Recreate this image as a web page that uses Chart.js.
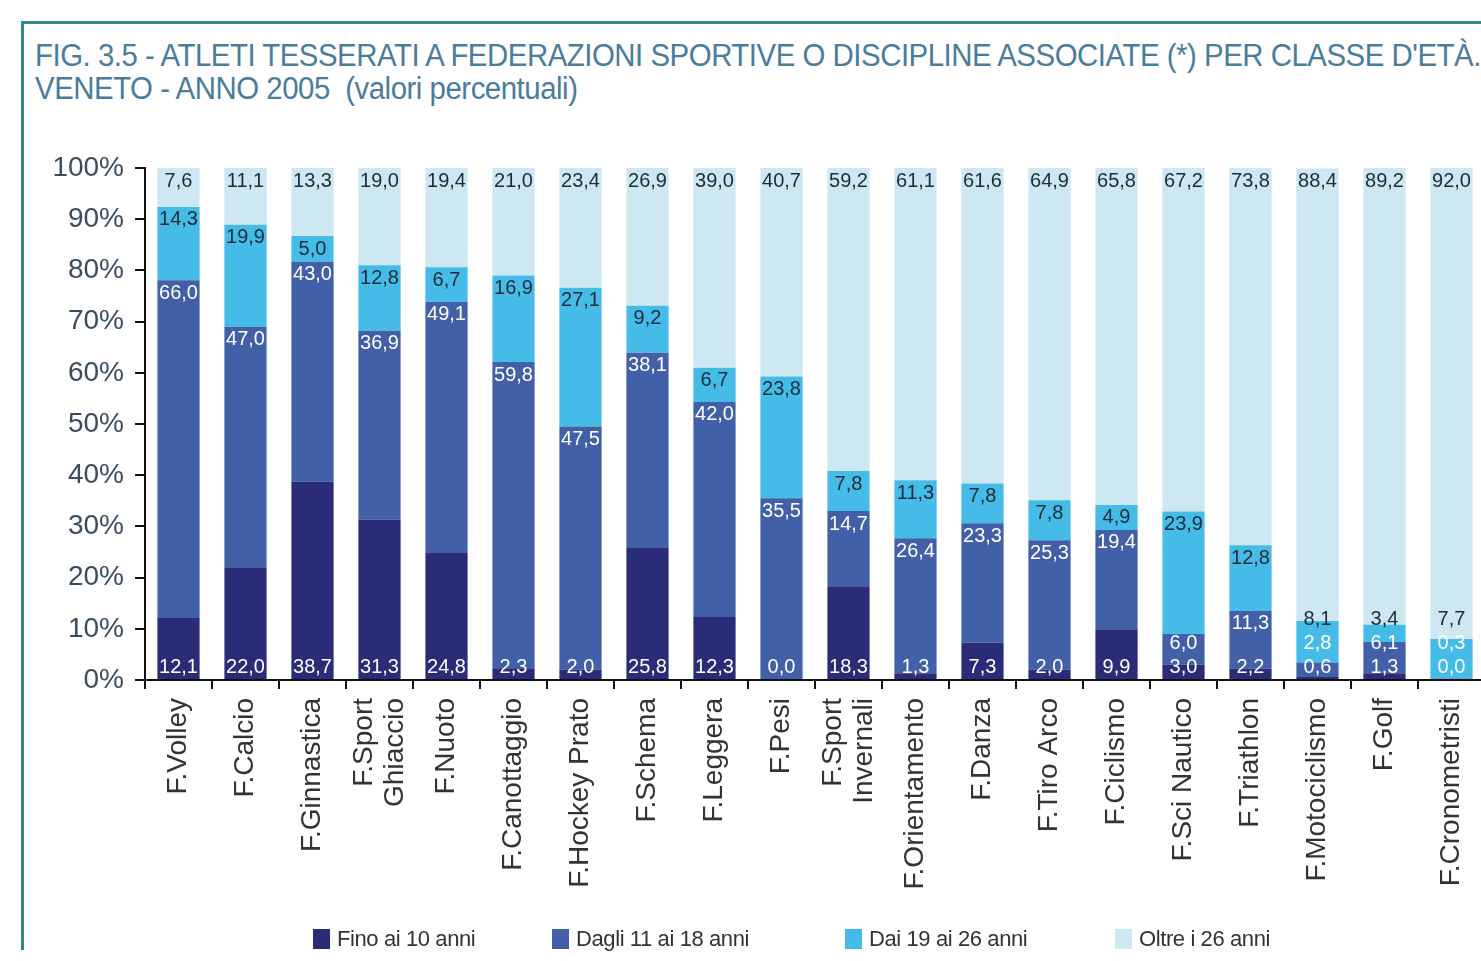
<!DOCTYPE html>
<html>
<head>
<meta charset="utf-8">
<script src="https://cdn.jsdelivr.net/npm/chart.js@4"></script>
<style>
    html, body { margin: 0; padding: 0; background: #fff; overflow: hidden; }
    body { width: 1481px; height: 961px; position: relative; }
    #frame {
        position: absolute; left: 21px; top: 21px; width: 1470px; height: 926px;
        border-top: 3px solid #2f8a8a; border-left: 3px solid #2f8a8a;
    }
    #title {
        position: absolute; left: 35px; top: 39px;
        font-family: "Liberation Sans", Arial, sans-serif;
        font-size: 31px; line-height: 33px; color: #4a7c9b; white-space: nowrap;
        letter-spacing: -0.5px; transform-origin: 0 0;
    }
    #chart-wrap { position: absolute; left: 0; top: 0; width: 1500px; height: 961px; }
    #legend {
        position: absolute; top: 926px; left: 0; width: 1481px; height: 24px;
        font-family: "Liberation Sans", Arial, sans-serif; font-size: 22px; color: #333;
        letter-spacing: -0.4px;
    }
    .item { position: absolute; top: 0; display: flex; align-items: center; }
    .item span.box { display: inline-block; width: 17px; height: 20px; margin-right: 7px; }
</style>
</head>
<body>
<div id="frame"></div>
<div id="title">FIG. 3.5 - ATLETI TESSERATI A FEDERAZIONI SPORTIVE O DISCIPLINE ASSOCIATE (*) PER CLASSE D'ETÀ.<br>VENETO - ANNO 2005&nbsp; (valori percentuali)</div>
<div id="chart-wrap"><canvas id="chart" width="1500" height="961"></canvas></div>
<div id="legend"></div>

<script>
// categories (federazioni)
const categories = [
    "F.Volley", "F.Calcio", "F.Ginnastica", ["F.Sport", "Ghiaccio"], "F.Nuoto",
    "F.Canottaggio", "F.Hockey Prato", "F.Schema", "F.Leggera", "F.Pesi",
    ["F.Sport", "Invernali"], "F.Orientamento", "F.Danza", "F.Tiro Arco", "F.Ciclismo",
    "F.Sci Nautico", "F.Triathlon", "F.Motociclismo", "F.Golf", "F.Cronometristi"
];

// classi d'età (valori percentuali)
const fino10  = [12.1, 22.0, 38.7, 31.3, 24.8, 2.3, 2.0, 25.8, 12.3, 0.0, 18.3, 1.3, 7.3, 2.0, 9.9, 3.0, 2.2, 0.6, 1.3, 0.0];
const dagli11 = [66.0, 47.0, 43.0, 36.9, 49.1, 59.8, 47.5, 38.1, 42.0, 35.5, 14.7, 26.4, 23.3, 25.3, 19.4, 6.0, 11.3, 2.8, 6.1, 0.3];
const dai19   = [14.3, 19.9, 5.0, 12.8, 6.7, 16.9, 27.1, 9.2, 6.7, 23.8, 7.8, 11.3, 7.8, 7.8, 4.9, 23.9, 12.8, 8.1, 3.4, 7.7];
const oltre26 = [7.6, 11.1, 13.3, 19.0, 19.4, 21.0, 23.4, 26.9, 39.0, 40.7, 59.2, 61.1, 61.6, 64.9, 65.8, 67.2, 73.8, 88.4, 89.2, 92.0];

const seriesNames = ["Fino ai 10 anni", "Dagli 11 ai 18 anni", "Dai 19 ai 26 anni", "Oltre i 26 anni"];
const seriesColors = ["#2b2c78", "#4160a8", "#45bce8", "#cde8f2"];
const yTicks = [0, 10, 20, 30, 40, 50, 60, 70, 80, 90, 100];

document.addEventListener("DOMContentLoaded", () => {
    fitTitle();
    renderLegend();
    initChart();
});

// title is condensed in the original: squeeze it to the frame width
function fitTitle() {
    const title = document.getElementById("title");
    const w = title.scrollWidth;
    title.style.transform = `scaleX(${1446 / w})`;
}

function renderLegend() {
    const legend = document.getElementById("legend");
    const lefts = [313, 552, 845, 1115];
    legend.innerHTML = seriesNames.map((name, i) => `
        <div class="item" style="left:${lefts[i]}px">
            <span class="box" style="background:${seriesColors[i]}"></span>${name}
        </div>`).join("");
}

function fmt(v) {
    return v.toFixed(1).replace(".", ",");
}

// etichette dei valori dentro le barre
const valueLabels = {
    id: "valueLabels",
    afterDatasetsDraw(chart) {
        const ctx = chart.ctx;
        const yScale = chart.scales.y;
        ctx.save();
        ctx.font = "20px 'Liberation Sans', Arial, sans-serif";
        ctx.textAlign = "center";
        ctx.textBaseline = "middle";
        categories.forEach((c, i) => {
            let prevY = null;
            chart.data.datasets.forEach((ds, d) => {
                const bar = chart.getDatasetMeta(d).data[i];
                let y;
                if (d === 0) {
                    y = yScale.getPixelForValue(0) - 13;
                } else if (d === 3) {
                    y = yScale.getPixelForValue(100) + 13;
                } else {
                    y = bar.y + 13;
                    if (prevY !== null && y > prevY - 24) y = prevY - 24;
                }
                prevY = y;
                let color = d < 2 ? "#ffffff" : "#1c2b3a";
                if (d === 2 && i >= 17) color = "#1c2b3a";
                ctx.fillStyle = color;
                ctx.fillText(fmt(ds.data[i]), bar.x, y);
            });
        });
        ctx.restore();
    }
};

// etichette asse x verticali, righe centrate sulla barra
const xLabels = {
    id: "xLabels",
    afterDraw(chart) {
        const ctx = chart.ctx;
        const xScale = chart.scales.x;
        const lineH = 31;
        ctx.save();
        ctx.font = "28px 'Liberation Sans', Arial, sans-serif";
        ctx.fillStyle = "#333";
        ctx.textAlign = "right";
        ctx.textBaseline = "middle";
        categories.forEach((c, i) => {
            const lines = Array.isArray(c) ? c : [c];
            const x = xScale.getPixelForTick(i);
            ctx.save();
            ctx.translate(x, xScale.top + 18);
            ctx.rotate(-Math.PI / 2);
            lines.forEach((line, k) => {
                ctx.fillText(line, 0, (k - (lines.length - 1) / 2) * lineH);
            });
            ctx.restore();
        });
        ctx.restore();
    }
};

function initChart() {
    const ctx = document.getElementById("chart").getContext("2d");
    const values = [fino10, dagli11, dai19, oltre26];

    new Chart(ctx, {
        type: "bar",
        data: {
            labels: categories,
            datasets: values.map((v, i) => ({
                label: seriesNames[i],
                data: v,
                backgroundColor: seriesColors[i],
                borderWidth: 0,
                categoryPercentage: 1,
                barPercentage: 0.63
            }))
        },
        options: {
            responsive: false,
            animation: false,
            layout: { padding: { top: 168, right: 15, left: 0, bottom: 0 } },
            plugins: {
                legend: { display: false },
                tooltip: { enabled: false }
            },
            scales: {
                x: {
                    stacked: true,
                    afterFit: s => { s.height = 281; },
                    border: { display: true, color: "#111", width: 2 },
                    grid: { drawOnChartArea: false, drawTicks: true, tickLength: 9, color: "#111", lineWidth: 2, offset: true },
                    ticks: { display: false, autoSkip: false }
                },
                y: {
                    stacked: true,
                    min: 0,
                    max: 100,
                    afterFit: s => { s.width = 145; },
                    afterBuildTicks: s => { s.ticks = yTicks.map(v => ({ value: v })); },
                    border: { display: true, color: "#111", width: 2 },
                    grid: { drawOnChartArea: false, drawTicks: true, tickLength: 10, color: "#111", lineWidth: 2 },
                    ticks: {
                        padding: 11,
                        color: "#3a4c5e",
                        font: { family: "'Liberation Sans', Arial, sans-serif", size: 28 },
                        callback: v => v + "%"
                    }
                }
            }
        },
        plugins: [valueLabels, xLabels]
    });
}
</script>
</body>
</html>
